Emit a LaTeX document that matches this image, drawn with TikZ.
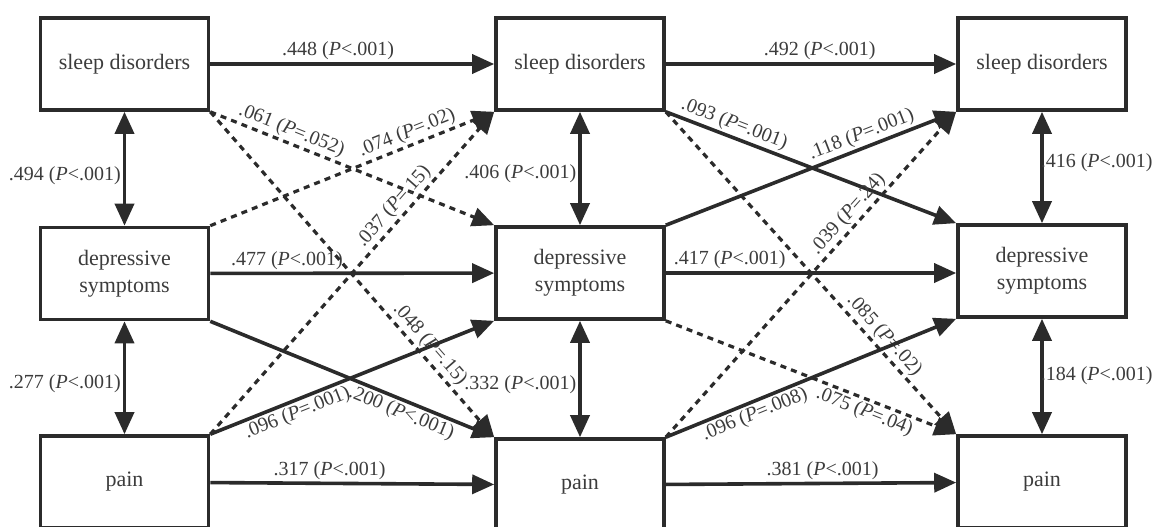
\documentclass[tikz,border=0pt]{standalone}
\usepackage{fontspec}
\setmainfont{Liberation Serif}
\usetikzlibrary{arrows.meta}
\definecolor{ink}{HTML}{2B2B2B}
\definecolor{txt}{HTML}{3C3C3C}

\begin{document}
\begin{tikzpicture}[x=0.5pt, y=-0.5pt,
    box/.style={draw=ink, line width=1.8pt, minimum width=84pt, minimum height=46pt,
        inner sep=0pt, align=center, text=txt, font=\fontsize{11}{13.5}\selectfont},
    sig/.style={draw=ink, line width=1.8pt, -{Triangle[length=11pt,width=9.5pt]}},
    nsig/.style={sig, line width=1.6pt, dash pattern=on 3pt off 2.6pt},
    corr/.style={draw=ink, line width=1.8pt,
        {Triangle[length=11pt,width=9.5pt]}-{Triangle[length=11pt,width=9.5pt]}},
    lab/.style={text=txt, font=\fontsize{10}{12}\selectfont, inner sep=1pt}]

\useasboundingbox (0,0) rectangle (1153,526);

    {
        \node[box] (11) at (124.5,64) {sleep disorders};
    }

    {
        \node[box] (12) at (580,64) {sleep disorders};
    }

    {
        \node[box] (13) at (1042,64) {sleep disorders};
    }

    {
        \node[box] (21) at (124.5,273.5) {depressive\\symptoms};
    }

    {
        \node[box] (22) at (580,273) {depressive\\symptoms};
    }

    {
        \node[box] (23) at (1042,271) {depressive\\symptoms};
    }

    {
        \node[box] (31) at (124.5,482) {pain};
    }

    {
        \node[box] (32) at (580,485) {pain};
    }

    {
        \node[box] (33) at (1042,482) {pain};
    }

\draw[sig] (11) -- node[lab, pos=0.45, above] {.448 (\textit{P}<.001)} (12);
\draw[sig] (12) -- node[lab, pos=0.53, above] {.492 (\textit{P}<.001)} (13);
\draw[sig] (21) -- node[lab, pos=0.27, above] {.477 (\textit{P}<.001)} (22);
\draw[sig] (22) -- node[lab, pos=0.22, above] {.417 (\textit{P}<.001)} (22 -| 23.west);
\draw[sig] (31) -- node[lab, pos=0.42, above] {.317 (\textit{P}<.001)} (32);
\draw[sig] (32) -- node[lab, pos=0.54, above] {.381 (\textit{P}<.001)} (33);

\draw[corr] (11) -- node[lab, pos=0.56, left] {.494 (\textit{P}<.001)} (21);
\draw[corr] (21) -- node[lab, pos=0.55, left] {.277 (\textit{P}<.001)} (31);
\draw[corr] (12) -- node[lab, pos=0.55, left] {.406 (\textit{P}<.001)} (22);
\draw[corr] (22) -- node[lab, pos=0.55, left] {.332 (\textit{P}<.001)} (32);
\draw[corr] (13) -- node[lab, pos=0.46, right, inner sep=0pt, xshift=-1.5pt] {.416 (\textit{P}<.001)} (23);
\draw[corr] (23) -- node[lab, pos=0.49, right, inner sep=0pt, xshift=-1.5pt] {.184 (\textit{P}<.001)} (33);

\draw[nsig] (11.south east) -- node[lab, pos=0.27, above, sloped] {.061 (\textit{P}=.052)} (22.north west);
\draw[nsig] (11.south east) -- node[lab, pos=0.74, above, sloped] {.048 (\textit{P}=.15)} (32.north west);
\draw[nsig] (21.north east) -- node[lab, pos=0.71, above, sloped] {.074 (\textit{P}=.02)} (12.south west);
\draw[nsig] (31.north east) -- node[lab, pos=0.68, above, sloped] {.037 (\textit{P}=.15)} (12.south west);
\draw[sig] (21.south east) -- node[lab, pos=0.69, below, sloped] {.200 (\textit{P}<.001)} (32.north west);
\draw[sig] (31.north east) -- node[lab, pos=0.29, below, sloped] {.096 (\textit{P}=.001)} (22.south west);

\draw[sig] (12.south east) -- node[lab, pos=0.22, above, sloped] {.093 (\textit{P}=.001)} (23.north west);
\draw[nsig] (12.south east) -- node[lab, pos=0.72, above, sloped] {.085 (\textit{P}=.02)} (33.north west);
\draw[sig] (22.north east) -- node[lab, pos=0.69, above, sloped] {.118 (\textit{P}=.001)} (13.south west);
\draw[nsig] (32.north east) -- node[lab, pos=0.66, above, sloped] {.039 (\textit{P}=.24)} (13.south west);
\draw[nsig] (22.south east) -- node[lab, pos=0.70, below, sloped] {.075 (\textit{P}=.04)} (33.north west);
\draw[sig] (32.north east) -- node[lab, pos=0.29, below, sloped] {.096 (\textit{P}=.008)} (23.south west);
\end{tikzpicture}
\end{document}
